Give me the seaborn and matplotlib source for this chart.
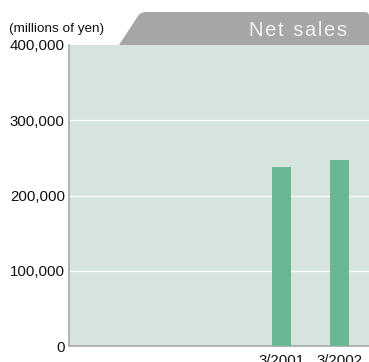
import matplotlib
matplotlib.use("Agg")
import matplotlib.pyplot as plt
from matplotlib.patches import PathPatch
from matplotlib.path import Path
import numpy as np
import pandas as pd
import seaborn as sns

# Fiscal years (March year-end) and net sales in millions of yen
periods = ["3/1998", "3/1999", "3/2000", "3/2001", "3/2002"]
period_labels = ["", "", "", "3/2001", "3/2002"]
net_sales = [np.nan, np.nan, np.nan, 238000, 247500]
y_ticks = [0, 100000, 200000, 300000, 400000]
y_tick_labels = ["0", "100,000", "200,000", "300,000", "400,000"]

df = pd.DataFrame({"period": periods, "sales": net_sales})

sns.set_theme(style="white")
plt.rcParams["font.family"] = ["Liberation Sans", "DejaVu Sans"]

W, H = 369, 362
fig = plt.figure(figsize=(W / 100, H / 100), dpi=100)
ax = fig.add_axes([69 / W, 16 / H, 300 / W, 301 / H])
ax.set_facecolor("#d5e5de")

sns.barplot(data=df, x="period", y="sales", order=periods, color="#69b793",
            width=0.33, saturation=1, linewidth=0, ax=ax, zorder=3)

ax.set_ylim(0, 400000)
ax.set_xlim(-0.664, 4.51)
ax.set_yticks(y_ticks)
ax.set_yticklabels(y_tick_labels, fontsize=10.8, color="#111111")
ax.set_xticks(range(len(periods)))
ax.set_xticklabels(period_labels, fontsize=10.8, color="#111111")
ax.tick_params(axis="y", length=0, pad=3)
ax.tick_params(axis="x", length=0, pad=6)
ax.set_xlabel("")
ax.set_ylabel("")
for y in y_ticks[1:-1]:
    ax.axhline(y, color="white", lw=1, zorder=1)

for side in ["top", "right"]:
    ax.spines[side].set_visible(False)
for side in ["left", "bottom"]:
    ax.spines[side].set_color("#a8a8a8")
    ax.spines[side].set_linewidth(1.2)

# Gray title tab above the plot area
def fx(px):
    return px / W

def fy(py):
    return 1 - py / H

verts = [
    (fx(119), fy(45)), (fx(138), fy(16)),
    (fx(140), fy(12)), (fx(147), fy(12)),
    (fx(365), fy(12)),
    (fx(369), fy(12)), (fx(369), fy(16)),
    (fx(369), fy(45)), (fx(119), fy(45)),
]
codes = [Path.MOVETO, Path.LINETO,
         Path.CURVE3, Path.CURVE3,
         Path.LINETO,
         Path.CURVE3, Path.CURVE3,
         Path.LINETO, Path.CLOSEPOLY]
tab = PathPatch(Path(verts, codes), transform=fig.transFigure,
                facecolor="#a6a6a6", edgecolor="none")
fig.patches.append(tab)

fig.text(fx(347), fy(30), "N\u200ae\u200at \u2009s\u200aa\u200al\u200ae\u200as",
         ha="right", va="center", fontsize=14.5, color="#f2f2f2")
fig.text(fx(9), fy(29), "(millions of yen)", ha="left", va="center",
         fontsize=9.7, color="#111111")

fig.savefig("out.png", dpi=100)
